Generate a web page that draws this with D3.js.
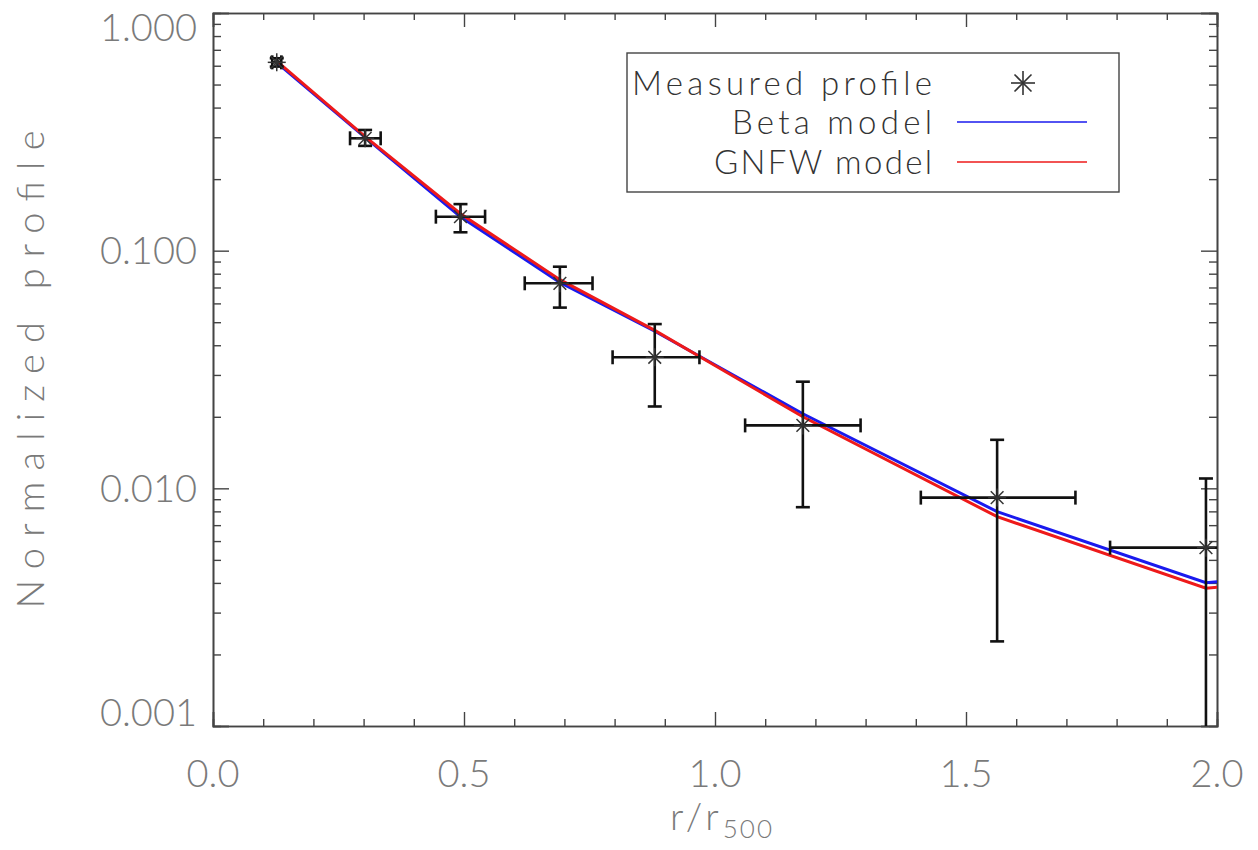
<!DOCTYPE html>
<html><head>
<meta charset="utf-8">
<script src="https://d3js.org/d3.v7.min.js"></script>
<style>
  body { margin: 0; background: #fff; }
  text { font-family: "Lato", "DejaVu Sans", sans-serif; font-weight: 300; }
</style>
</head>
<body>
<svg id="chart" width="1258" height="850"></svg>
<script>
// measured profile (r/r500, value) with error ranges
const rVals   = [0.127, 0.303, 0.493, 0.691, 0.880, 1.175, 1.562, 1.978];
const rLow    = [0.118, 0.273, 0.444, 0.621, 0.796, 1.060, 1.410, 1.787];
const rHigh   = [0.136, 0.334, 0.542, 0.756, 0.969, 1.290, 1.718, 2.170];
const profVal = [0.620, 0.297, 0.139, 0.0729, 0.0356, 0.0184, 0.00914, 0.00563];
const profLow = [0.595, 0.276, 0.1195, 0.0576, 0.0221, 0.00833, 0.00227, 0.0001];
const profHigh= [0.645, 0.322, 0.157, 0.0856, 0.0491, 0.0281, 0.0160, 0.0110];

// model curves (evaluated at the data radii, plus one point past the edge)
const modelR = [0.127, 0.303, 0.493, 0.691, 0.880, 1.175, 1.562, 1.978, 2.05];
const betaModel = [0.618, 0.300, 0.139, 0.0735, 0.0458, 0.0206, 0.00798, 0.00401, 0.00412];
const gnfwModel = [0.628, 0.302, 0.143, 0.0755, 0.0462, 0.0200, 0.00760, 0.00380, 0.00392];

const xMajor = [0.0, 0.5, 1.0, 1.5, 2.0];
const yMajor = [0.001, 0.01, 0.1, 1];

const svg = d3.select("#chart");
const pLeft = 213, pRight = 1217, pTop = 13, pBottom = 726;
const axisColor = "#444", labelColor = "#7a7a7a";

const x = d3.scaleLinear().domain([0, 2]).range([pLeft, pRight]);
const y = d3.scaleLog().domain([0.001, 1]).range([pBottom, pTop]);

svg.append("defs").append("clipPath").attr("id", "clip")
  .append("rect").attr("x", pLeft).attr("y", pTop)
  .attr("width", pRight - pLeft).attr("height", pBottom - pTop);

// minor tick positions
let xMinor = d3.range(0, 21).map(i => i / 10).filter(v => Math.abs(v * 2 - Math.round(v * 2)) > 1e-6);
let yMinor = [];
[0.001, 0.01, 0.1].forEach(d => { for (let k = 2; k <= 9; k++) yMinor.push(d * k); });

function styleAxis(g) {
  g.select(".domain").attr("stroke", axisColor).attr("stroke-width", 1.6);
  g.selectAll(".tick line").attr("stroke", axisColor).attr("stroke-width", 1.4);
}

// bottom / top axes
[[d3.axisBottom, pBottom], [d3.axisTop, pTop]].forEach(([ax, pos]) => {
  svg.append("g").attr("transform", `translate(0,${pos})`)
    .call(ax(x).tickValues(xMinor).tickSize(-7).tickFormat("")).call(styleAxis);
  svg.append("g").attr("transform", `translate(0,${pos})`)
    .call(ax(x).tickValues(xMajor).tickSize(-14).tickFormat("")).call(styleAxis);
});
// left / right axes
[[d3.axisLeft, pLeft], [d3.axisRight, pRight]].forEach(([ax, pos]) => {
  svg.append("g").attr("transform", `translate(${pos},0)`)
    .call(ax(y).tickValues(yMinor).tickSize(-8).tickFormat("")).call(styleAxis);
  svg.append("g").attr("transform", `translate(${pos},0)`)
    .call(ax(y).tickValues(yMajor).tickSize(-16).tickFormat("")).call(styleAxis);
});

// tick labels
svg.append("g").selectAll("text").data(xMajor).join("text")
  .attr("x", d => x(d)).attr("y", 787)
  .attr("text-anchor", "middle").attr("font-size", 38).attr("fill", labelColor)
  .text(d => d3.format(".1f")(d));

svg.append("g").selectAll("text").data(yMajor).join("text")
  .attr("x", pLeft - 16)
  .attr("y", d => Math.min(Math.max(y(d), pTop + 14), pBottom - 14))
  .attr("dy", "0.36em")
  .attr("text-anchor", "end").attr("font-size", 38).attr("fill", labelColor)
  .text(d => d3.format(".3f")(d));

// axis titles
svg.append("text")
  .attr("transform", `translate(44,${(pTop + pBottom) / 2}) rotate(-90)`)
  .attr("text-anchor", "middle").attr("font-size", 38).attr("fill", labelColor)
  .attr("textLength", 478).attr("lengthAdjust", "spacing")
  .text("Normalized profile");

const xt = svg.append("text").attr("x", 722).attr("y", 830)
  .attr("text-anchor", "middle").attr("font-size", 38).attr("fill", labelColor);
xt.append("tspan").attr("letter-spacing", 4).text("r/r");
xt.append("tspan").attr("font-size", 26).attr("dy", 8).attr("letter-spacing", 2).text("500");

const plot = svg.append("g").attr("clip-path", "url(#clip)");

// model lines
const line = d3.line().x((d, i) => x(modelR[i])).y(d => y(d));
plot.append("path").datum(betaModel).attr("d", line)
  .attr("fill", "none").attr("stroke", "#1a1aee").attr("stroke-width", 3);
plot.append("path").datum(gnfwModel).attr("d", line)
  .attr("fill", "none").attr("stroke", "#ee1a1a").attr("stroke-width", 3);

// error bars
const cap = 7;
const pts = rVals.map((r, i) => ({r, v: profVal[i], rl: rLow[i], rh: rHigh[i], vl: profLow[i], vh: profHigh[i]}));
const eb = plot.append("g").attr("stroke", "#111").attr("stroke-width", 2.6).attr("fill", "none");
pts.forEach(p => {
  const cx = x(p.r), cy = y(p.v);
  eb.append("line").attr("x1", x(p.rl)).attr("x2", x(p.rh)).attr("y1", cy).attr("y2", cy);
  eb.append("line").attr("x1", cx).attr("x2", cx).attr("y1", y(p.vl)).attr("y2", y(p.vh));
  [p.rl, p.rh].forEach(r => eb.append("line").attr("x1", x(r)).attr("x2", x(r)).attr("y1", cy - cap).attr("y2", cy + cap));
  [p.vl, p.vh].forEach(v => eb.append("line").attr("x1", cx - cap).attr("x2", cx + cap).attr("y1", y(v)).attr("y2", y(v)));
});

// asterisk symbol
function star(g, cx, cy, r, w) {
  for (let k = 0; k < 4; k++) {
    const a = k * Math.PI / 4;
    g.append("line")
      .attr("x1", cx - r * Math.cos(a)).attr("y1", cy - r * Math.sin(a))
      .attr("x2", cx + r * Math.cos(a)).attr("y2", cy + r * Math.sin(a))
      .attr("stroke", "#333").attr("stroke-width", w);
  }
}
pts.forEach(p => star(plot, x(p.r), y(p.v), 9, 1.5));

// legend
const lg = svg.append("g");
lg.append("rect").attr("x", 627).attr("y", 53).attr("width", 492).attr("height", 139)
  .attr("fill", "#fff").attr("stroke", "#444").attr("stroke-width", 1.4);
const legendLabels = ["Measured profile", "Beta model", "GNFW model"];
const legendWidths = [300, 200, 218];
const legendColors = [null, "#1a1aee", "#ee1a1a"];
const rowY = [83, 122, 162];
legendLabels.forEach((t, i) => {
  lg.append("text").attr("x", 932).attr("y", rowY[i]).attr("dy", "0.36em")
    .attr("text-anchor", "end").attr("font-size", 33).attr("fill", "#333")
    .attr("textLength", legendWidths[i]).attr("lengthAdjust", "spacing").text(t);
  if (legendColors[i]) {
    lg.append("line").attr("x1", 957).attr("x2", 1087).attr("y1", rowY[i]).attr("y2", rowY[i])
      .attr("stroke", legendColors[i]).attr("stroke-width", 1.6);
  } else {
    star(lg, 1023, rowY[i], 12, 1.6);
  }
});
</script>
</body>
</html>
